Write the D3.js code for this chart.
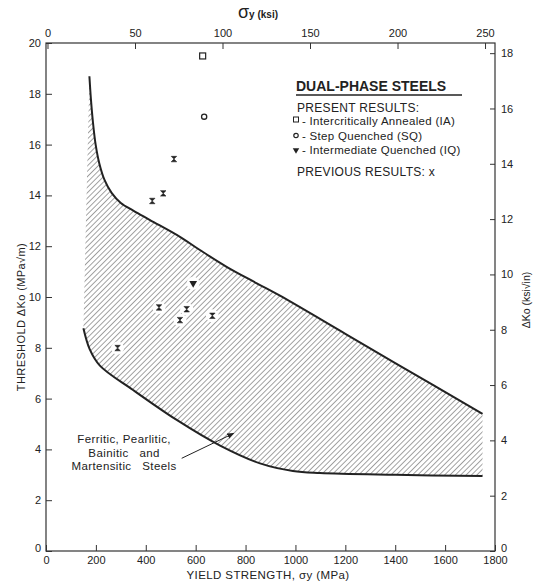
<!DOCTYPE html>
<html>
<head>
<meta charset="utf-8">
<script src="https://cdn.jsdelivr.net/npm/d3@7"></script>
<style>
  body { margin: 0; background: #fff; }
  svg text { font-family: "Liberation Sans", Arial, Helvetica, sans-serif; fill: #222; }
</style>
</head>
<body>
<svg id="chart" width="542" height="584"></svg>
<script>
// ---- data ----
// yield strength (MPa) / threshold dKo (MPa sqrt m)
const upperMPa = [174, 180, 188, 199, 214, 235, 263, 300, 350, 417, 537, 617, 724, 845, 938, 1200, 1400, 1750];
const upperK   = [18.69, 17.8, 16.9, 16.0, 15.25, 14.6, 14.1, 13.7, 13.4, 13.03, 12.37, 11.85, 11.19, 10.54, 10.05, 8.55, 7.4, 5.4];
const lowerMPa = [150, 175, 216, 349, 524, 698, 858, 990, 1098, 1400, 1750];
const lowerK   = [8.77, 7.95, 7.3, 6.34, 5.16, 4.15, 3.45, 3.15, 3.07, 3.0, 2.95];

const prevMPa = [513, 470, 426, 453, 564, 537, 667, 287];
const prevK   = [15.43, 14.08, 13.78, 9.59, 9.52, 9.09, 9.26, 7.99];
const iaMPa = [628], iaK = [19.49];
const sqMPa = [634], sqK = [17.10];
const iqMPa = [590], iqK = [10.54];

const mpaTicks = [0, 200, 400, 600, 800, 1000, 1200, 1400, 1600, 1800];
const ksiTicks = [0, 50, 100, 150, 200, 250];
const kTicks = [0, 2, 4, 6, 8, 10, 12, 14, 16, 18, 20];
const kIntTicks = [0, 2, 4, 6, 8, 10, 12, 14, 16, 18];

const legendItems = ["- Intercritically Annealed (IA)", "- Step Quenched (SQ)", "- Intermediate Quenched (IQ)"];

// ---- setup ----
const svg = d3.select("#chart");
const font = '"Liberation Sans", Arial, Helvetica, sans-serif';
const ink = "#222";

const x = d3.scaleLinear().domain([0, 1800]).range([46, 495]);
const y = d3.scaleLinear().domain([0, 20]).range([551, 43]);
// secondary axes, as drafted on the original
const xKsi = d3.scaleLinear().domain([0, 250]).range([x(6), x(1760)]);
const yKsi = d3.scaleLinear().domain([0, 18]).range([y(0), y(19.6)]);

const defs = svg.append("defs");
defs.append("pattern")
    .attr("id", "hatch")
    .attr("patternUnits", "userSpaceOnUse")
    .attr("width", 3.8).attr("height", 3.8)
    .attr("patternTransform", "rotate(45)")
  .append("line")
    .attr("x1", 0).attr("y1", 0).attr("x2", 0).attr("y2", 3.8)
    .attr("stroke", "#333").attr("stroke-width", 0.9);

defs.append("marker")
    .attr("id", "arrow")
    .attr("viewBox", "0 0 10 10")
    .attr("refX", 9).attr("refY", 5)
    .attr("markerWidth", 7).attr("markerHeight", 7)
    .attr("orient", "auto")
  .append("path")
    .attr("d", "M0,1 L10,5 L0,9 Z")
    .attr("fill", ink);

// ---- scatter band ----
const upper = upperMPa.map((v, i) => [x(v), y(upperK[i])]);
const lower = lowerMPa.map((v, i) => [x(v), y(lowerK[i])]);
const line = d3.line().curve(d3.curveCatmullRom.alpha(0.5));

const upperPath = line(upper);
const lowerRevPath = line(lower.slice().reverse());
svg.append("path")
    .attr("d", upperPath + "L" + lowerRevPath.slice(1) + "Z")
    .attr("fill", "url(#hatch)")
    .attr("stroke", "none");

svg.append("path").attr("d", upperPath)
    .attr("fill", "none").attr("stroke", ink).attr("stroke-width", 2);
svg.append("path").attr("d", line(lower))
    .attr("fill", "none").attr("stroke", ink).attr("stroke-width", 2);

// ---- frame and axes ----
svg.append("rect")
    .attr("x", x(0)).attr("y", y(20))
    .attr("width", x(1800) - x(0)).attr("height", y(0) - y(20))
    .attr("fill", "none").attr("stroke", "#333").attr("stroke-width", 1.2);

function styleAxis(g) {
  g.select(".domain").remove();
  g.selectAll("line").attr("stroke", "#333").attr("stroke-width", 1);
  g.selectAll("text").attr("font-family", font).attr("font-size", 11).attr("fill", ink);
}

svg.append("g")
    .attr("transform", `translate(0,${y(0)})`)
    .call(d3.axisBottom(x).tickValues(mpaTicks).tickFormat(d3.format("d")).tickSize(-6).tickPadding(5))
    .call(styleAxis);

svg.append("g")
    .attr("transform", `translate(${x(0)},0)`)
    .call(d3.axisLeft(y).tickValues(kTicks).tickSize(-6).tickPadding(5))
    .call(styleAxis)
    .call(g => g.selectAll("text").filter(d => d === 0).attr("dy", "0.05em"));

svg.append("g")
    .attr("transform", `translate(0,${y(20)})`)
    .call(d3.axisTop(xKsi).tickValues(ksiTicks).tickSize(-6).tickPadding(6))
    .call(styleAxis);

svg.append("g")
    .attr("transform", `translate(${x(1800)},0)`)
    .call(d3.axisRight(yKsi).tickValues(kIntTicks).tickSize(-5).tickPadding(6))
    .call(styleAxis)
    .call(g => g.selectAll("text").filter(d => d === 0).attr("dy", "0.02em"));

// ---- axis titles ----
const ksiTitle = svg.append("text").attr("x", 258).attr("y", 18).attr("text-anchor", "middle");
ksiTitle.append("tspan").attr("font-size", 18).text("σ");
ksiTitle.append("tspan").attr("font-size", 10).attr("font-weight", "bold").text("y (ksi)");

svg.append("text")
    .attr("x", 268).attr("y", 579).attr("text-anchor", "middle")
    .attr("font-size", 11.5).attr("letter-spacing", 0.4)
    .text("YIELD STRENGTH, σy (MPa)");

svg.append("text")
    .attr("transform", "translate(25,317) rotate(-90)")
    .attr("text-anchor", "middle")
    .attr("font-size", 11).attr("letter-spacing", 0.4)
    .text("THRESHOLD ΔKo (MPa√m)");

svg.append("text")
    .attr("transform", "translate(530,300) rotate(-90)")
    .attr("text-anchor", "middle")
    .attr("font-size", 10.5)
    .text("ΔKo (ksi√in)");

// ---- points ----
const bowtie = {
  draw(ctx, size) {
    const r = Math.sqrt(size) / 2;
    ctx.moveTo(-r, -r); ctx.lineTo(r, -r); ctx.lineTo(-r, r); ctx.lineTo(r, r); ctx.closePath();
  }
};

const prev = prevMPa.map((v, i) => ({ mpa: v, k: prevK[i] }));
const iq = iqMPa.map((v, i) => ({ mpa: v, k: iqK[i] }));

svg.append("g").selectAll("circle")
    .data(prev.concat(iq))
    .join("circle")
    .attr("cx", d => x(d.mpa)).attr("cy", d => y(d.k))
    .attr("r", 6.5).attr("fill", "#fff");

svg.append("g").selectAll("path")
    .data(prev)
    .join("path")
    .attr("transform", d => `translate(${x(d.mpa)},${y(d.k)})`)
    .attr("d", d3.symbol(bowtie, 30))
    .attr("fill", ink).attr("stroke", ink).attr("stroke-width", 0.6);

const tri = d3.symbol(d3.symbolTriangle, 26);
svg.append("g").selectAll("path")
    .data(iq)
    .join("path")
    .attr("transform", d => `translate(${x(d.mpa)},${y(d.k)}) rotate(180)`)
    .attr("d", tri).attr("fill", ink);

svg.append("g").selectAll("rect")
    .data(iaMPa.map((v, i) => ({ mpa: v, k: iaK[i] })))
    .join("rect")
    .attr("x", d => x(d.mpa) - 3).attr("y", d => y(d.k) - 3)
    .attr("width", 6).attr("height", 6)
    .attr("fill", "none").attr("stroke", ink).attr("stroke-width", 1.2);

svg.append("g").selectAll("circle")
    .data(sqMPa.map((v, i) => ({ mpa: v, k: sqK[i] })))
    .join("circle")
    .attr("cx", d => x(d.mpa)).attr("cy", d => y(d.k))
    .attr("r", 2.6)
    .attr("fill", "none").attr("stroke", ink).attr("stroke-width", 1.3);

// ---- legend ----
const lg = svg.append("g").attr("transform", "translate(296,0)");
lg.append("text").attr("x", 0).attr("y", 91)
    .attr("font-size", 14).attr("font-weight", "bold")
    .text("DUAL-PHASE STEELS");
lg.append("line").attr("x1", 0).attr("x2", 166).attr("y1", 95).attr("y2", 95)
    .attr("stroke", ink).attr("stroke-width", 1.5);
lg.append("text").attr("x", 1).attr("y", 112).attr("font-size", 12).attr("letter-spacing", 0.3)
    .text("PRESENT RESULTS:");
legendItems.forEach((t, i) => {
  lg.append("text").attr("x", 6).attr("y", 125 + i * 14.5)
      .attr("font-size", 11.5).attr("letter-spacing", 0.3).text(t);
});
lg.append("rect").attr("x", -2.5).attr("y", 117).attr("width", 5).attr("height", 5)
    .attr("fill", "none").attr("stroke", ink).attr("stroke-width", 1);
lg.append("circle").attr("cx", 0).attr("cy", 135.5).attr("r", 2.2)
    .attr("fill", "none").attr("stroke", ink).attr("stroke-width", 1.2);
lg.append("path").attr("transform", "translate(0,150) rotate(180)")
    .attr("d", d3.symbol(d3.symbolTriangle, 18)).attr("fill", ink);
lg.append("text").attr("x", 1).attr("y", 176).attr("font-size", 12).attr("letter-spacing", 0.3)
    .text("PREVIOUS RESULTS:  x");

// ---- annotation ----
const noteLines = ["Ferritic, Pearlitic,", "Bainitic   and", "Martensitic   Steels"];
const noteMPa = 313, noteK = [4.25, 3.7, 3.19];
svg.append("g").selectAll("text")
    .data(noteLines)
    .join("text")
    .attr("x", x(noteMPa)).attr("y", (d, i) => y(noteK[i]))
    .attr("text-anchor", "middle")
    .attr("font-size", 11.5).attr("letter-spacing", 0.4)
    .style("white-space", "pre")
    .text(d => d);

const arrowFrom = [544, 3.65], arrowTo = [752, 4.63];
svg.append("line")
    .attr("x1", x(arrowFrom[0])).attr("y1", y(arrowFrom[1]))
    .attr("x2", x(arrowTo[0])).attr("y2", y(arrowTo[1]))
    .attr("stroke", ink).attr("stroke-width", 1)
    .attr("marker-end", "url(#arrow)");
</script>
</body>
</html>
